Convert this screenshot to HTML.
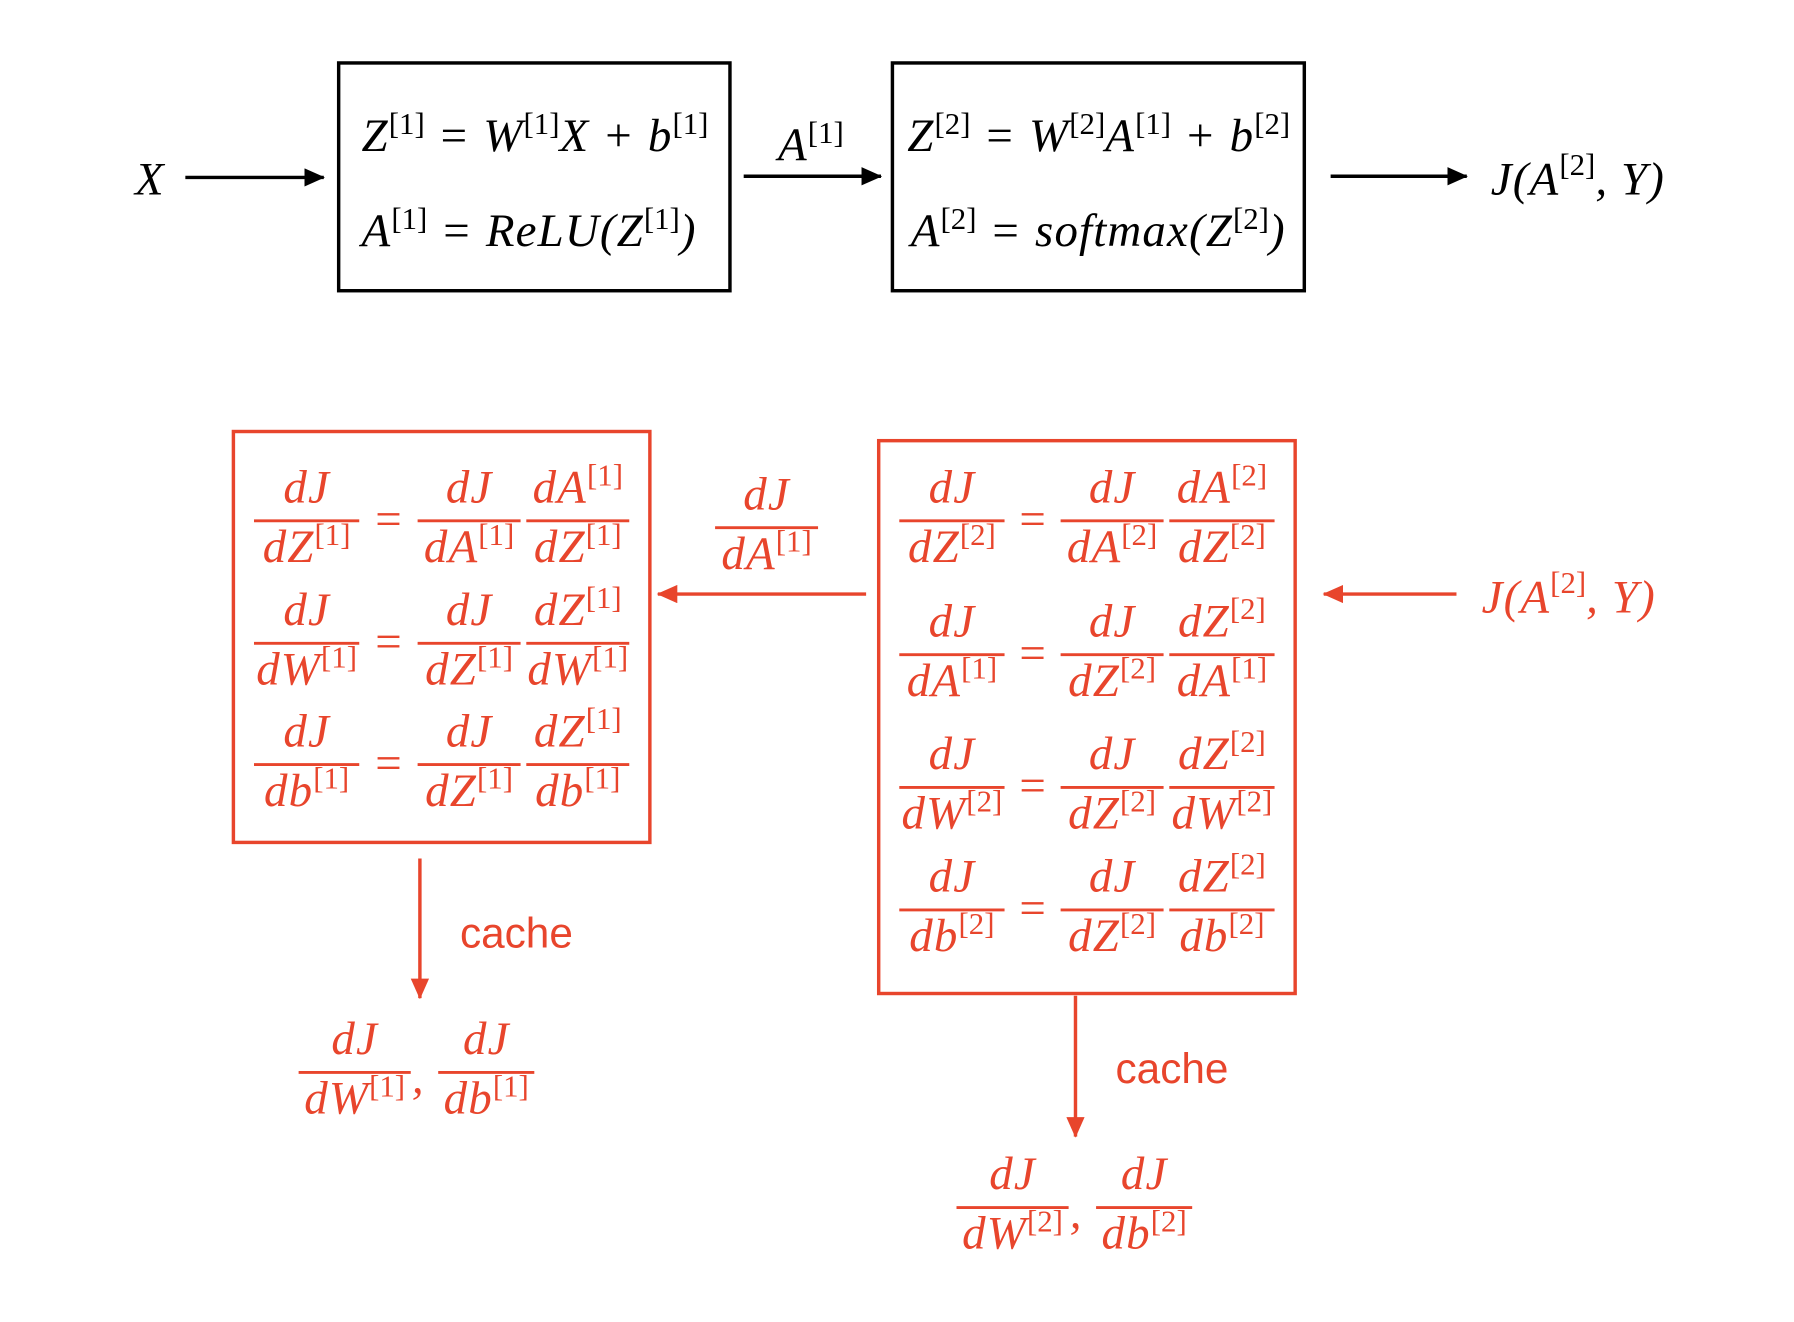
<!DOCTYPE html>
<html><head><meta charset="utf-8"><style>
html,body{margin:0;padding:0;background:#fff;}
svg{display:block;}
.m{font-family:"Liberation Serif",serif;font-style:italic;font-size:41px;letter-spacing:1px;}
.u{font-style:normal;font-size:27px;letter-spacing:0;}
.s{font-family:"Liberation Sans",sans-serif;font-size:37px;}
</style></head><body>
<svg id="c" width="1794" height="1322" viewBox="0 0 1568 1155" preserveAspectRatio="none" xmlns="http://www.w3.org/2000/svg">
<defs>
<marker id="ar" markerWidth="18" markerHeight="16" refX="17" refY="8" orient="auto" markerUnits="userSpaceOnUse" viewBox="0 0 18 16"><path d="M0,0L18,8L0,16z" fill="#e8452c"/></marker>
<marker id="ak" markerWidth="18" markerHeight="16" refX="17" refY="8" orient="auto" markerUnits="userSpaceOnUse" viewBox="0 0 18 16"><path d="M0,0L18,8L0,16z" fill="#000"/></marker>
</defs>
<g>
<text class="m" x="118" y="170">X</text>
<line x1="162" y1="155" x2="283" y2="155" stroke="#000" stroke-width="3" marker-end="url(#ak)"/>
<rect x="296" y="55" width="342" height="199" fill="none" stroke="#000" stroke-width="3"/>
<text class="m" x="316" y="132">Z<tspan class="u" dy="-15">[1]</tspan><tspan dy="15"> = W</tspan><tspan class="u" dy="-15">[1]</tspan><tspan dy="15">X + b</tspan><tspan class="u" dy="-15">[1]</tspan></text>
<text class="m" x="316" y="215">A<tspan class="u" dy="-15">[1]</tspan><tspan dy="15"> = ReLU(Z</tspan><tspan class="u" dy="-15">[1]</tspan><tspan dy="15">)</tspan></text>
<line x1="650" y1="154" x2="770" y2="154" stroke="#000" stroke-width="3" marker-end="url(#ak)"/>
<text class="m" x="680" y="140">A<tspan class="u" dy="-15">[1]</tspan></text>
<rect x="780" y="55" width="360" height="199" fill="none" stroke="#000" stroke-width="3"/>
<text class="m" x="793" y="132">Z<tspan class="u" dy="-15">[2]</tspan><tspan dy="15"> = W</tspan><tspan class="u" dy="-15">[2]</tspan><tspan dy="15">A</tspan><tspan class="u" dy="-15">[1]</tspan><tspan dy="15"> + b</tspan><tspan class="u" dy="-15">[2]</tspan></text>
<text class="m" x="796" y="215">A<tspan class="u" dy="-15">[2]</tspan><tspan dy="15"> = softmax(Z</tspan><tspan class="u" dy="-15">[2]</tspan><tspan dy="15">)</tspan></text>
<line x1="1163" y1="154" x2="1282" y2="154" stroke="#000" stroke-width="3" marker-end="url(#ak)"/>
<text class="m" x="1303" y="170">J(A<tspan class="u" dy="-17">[2]</tspan><tspan dy="17">, Y)</tspan></text>
</g>
<g id="bw" fill="#e8452c">
<rect x="204" y="377" width="364" height="359" fill="none" stroke="#e8452c" stroke-width="3"/>
<rect x="768" y="385" width="364" height="483" fill="none" stroke="#e8452c" stroke-width="3"/>
<line x1="757" y1="519" x2="575" y2="519" stroke="#e8452c" stroke-width="3" marker-end="url(#ar)"/>
<line x1="1273" y1="519" x2="1157" y2="519" stroke="#e8452c" stroke-width="3" marker-end="url(#ar)"/>
<text class="m" x="1295" y="535">J(A<tspan class="u" dy="-17">[2]</tspan><tspan dy="17">, Y)</tspan></text>
<line x1="367" y1="750" x2="367" y2="872" stroke="#e8452c" stroke-width="3" marker-end="url(#ar)"/>
<text class="s" x="402" y="828">cache</text>
<line x1="940" y1="870" x2="940" y2="993" stroke="#e8452c" stroke-width="3" marker-end="url(#ar)"/>
<text class="s" x="975" y="946">cache</text>
</g>
</svg>
<script>
const NS='http://www.w3.org/2000/svg';
const g=document.getElementById('bw');
function txt(x,y,base,sup,name){
  const t=document.createElementNS(NS,'text');
  t.setAttribute('class','m');t.setAttribute('x',x);t.setAttribute('y',y);t.setAttribute('text-anchor','middle');
  
  
  const a=document.createElementNS(NS,'tspan');a.textContent=base;t.appendChild(a);
  if(sup){const b=document.createElementNS(NS,'tspan');b.setAttribute('class','u');b.setAttribute('dy','-15');b.textContent=sup;t.appendChild(b);}
  g.appendChild(t);
}
function frac(cx,by,num,nsup,den,dsup,w,name){
  txt(cx,by-16,num,nsup,name+'-num');
  txt(cx,by+36,den,dsup,name+'-den');
  const l=document.createElementNS(NS,'line');
  l.setAttribute('x1',cx-w/2);l.setAttribute('x2',cx+w/2);l.setAttribute('y1',by);l.setAttribute('y2',by);
  l.setAttribute('stroke','#e8452c');l.setAttribute('stroke-width','2.5');
  
  
  g.appendChild(l);
}
function eq(x,y,name){
  const t=document.createElementNS(NS,'text');t.setAttribute('class','m');t.setAttribute('x',x);t.setAttribute('y',y+12);
  t.setAttribute('text-anchor','middle');t.setAttribute('style','font-style:normal');t.textContent='=';
  
  
  g.appendChild(t);
}
const r1=[[455,'dZ','[1]','dA','[1]','dA','[1]','dZ','[1]'],[562,'dW','[1]','dZ','[1]','dZ','[1]','dW','[1]'],[668,'db','[1]','dZ','[1]','dZ','[1]','db','[1]']];
r1.forEach((r,i)=>{frac(268,r[0],'dJ','',r[1],r[2],92,'l1-row'+i+'-lhs');eq(340,r[0],'l1-row'+i+'-eq');
 frac(410,r[0],'dJ','',r[3],r[4],90,'l1-row'+i+'-rhs1');frac(505,r[0],r[5],r[6],r[7],r[8],90,'l1-row'+i+'-rhs2');});
const r2=[[455,'dZ','[2]','dA','[2]','dA','[2]','dZ','[2]'],[572,'dA','[1]','dZ','[2]','dZ','[2]','dA','[1]'],[688,'dW','[2]','dZ','[2]','dZ','[2]','dW','[2]'],[795,'db','[2]','dZ','[2]','dZ','[2]','db','[2]']];
r2.forEach((r,i)=>{frac(832,r[0],'dJ','',r[1],r[2],92,'l2-row'+i+'-lhs');eq(903,r[0],'l2-row'+i+'-eq');
 frac(972,r[0],'dJ','',r[3],r[4],90,'l2-row'+i+'-rhs1');frac(1068,r[0],r[5],r[6],r[7],r[8],92,'l2-row'+i+'-rhs2');});
frac(670,461,'dJ','','dA','[1]',90,'grad-da1');
frac(310,937,'dJ','','dW','[1]',98,'cache1-dw');frac(425,937,'dJ','','db','[1]',84,'cache1-db');
frac(885,1055,'dJ','','dW','[2]',98,'cache2-dw');frac(1000,1055,'dJ','','db','[2]',84,'cache2-db');
[[360,955,'comma-1'],[935,1073,'comma-2']].forEach(c=>{const t=document.createElementNS(NS,'text');t.setAttribute('class','m');t.setAttribute('x',c[0]);t.setAttribute('y',c[1]);t.textContent=',';
 
 
 g.appendChild(t);});
</script>
</body></html>
